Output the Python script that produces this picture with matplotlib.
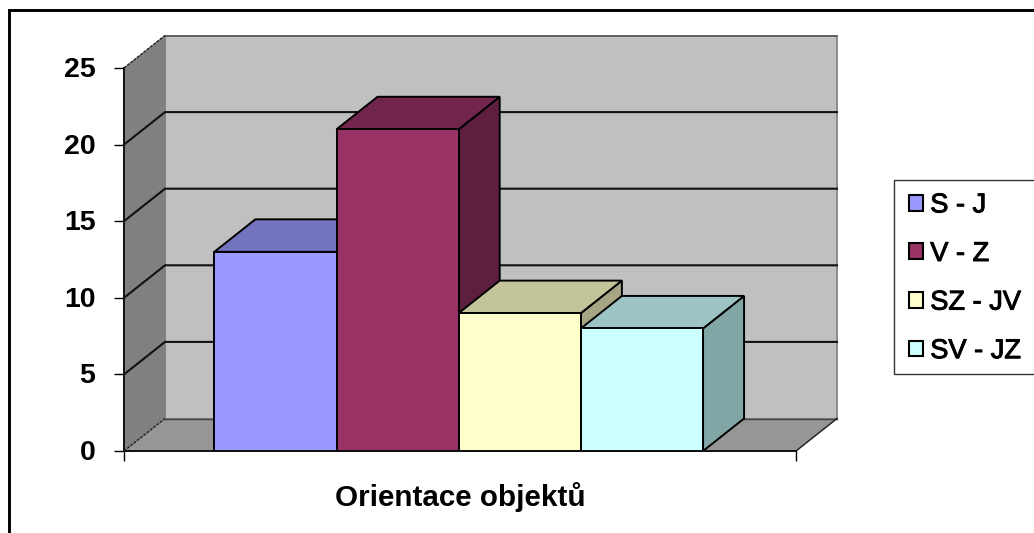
import matplotlib
matplotlib.use('Agg')
import matplotlib.pyplot as plt
import matplotlib.patheffects as pe
from matplotlib.lines import Line2D
from matplotlib.patches import Patch, Rectangle
from matplotlib.transforms import ScaledTranslation

# Data
labels = ['S - J', 'V - Z', 'SZ - JV', 'SV - JZ']
values = [13, 21, 9, 8]
yticks = [0, 5, 10, 15, 20, 25]
xlabel = 'Orientace objektů'

front_colors = ['#9999FF', '#993366', '#FFFFCC', '#CCFFFF']
top_colors = ['#7373BF', '#73264D', '#C4C49A', '#9CC4C4']
side_colors = ['#5C5C99', '#5E1F3F', '#A6A685', '#82A6A6']

W, H = 1034, 533

plt.rcParams['font.family'] = ['Liberation Sans', 'DejaVu Sans']
plt.rcParams['font.weight'] = 'bold'

fig = plt.figure(figsize=(W / 100, H / 100), dpi=100)
ax = fig.add_axes([124 / W, (H - 451) / H, 672 / W, 383 / H])
ax.set_xlim(-0.5, 0.5)
ax.set_ylim(0, 25)

# depth of the fake 3d box, in data units
dx = 41 / 672
dy = 32.5 / 383 * 25
x0, x1 = -0.5, 0.5
ymax = yticks[-1]

# walls and floor
ax.fill([x0 + dx, x1 + dx, x1 + dx, x0 + dx], [dy, dy, ymax + dy, ymax + dy],
        color='#C0C0C0', ec='#808080', lw=1.2, clip_on=False, zorder=1)
ax.fill([x0, x0 + dx, x0 + dx, x0], [0, dy, ymax + dy, ymax],
        color='#808080', ec='#808080', lw=0.8, clip_on=False, zorder=1)
ax.fill([x0, x1, x1 + dx, x0 + dx], [0, 0, dy, dy],
        color='#969696', ec='#808080', lw=0.8, clip_on=False, zorder=1)

# gridlines along side wall and back wall
for t in yticks[1:-1]:
    ax.plot([x0, x0 + dx, x1 + dx], [t, t + dy, t + dy], color='#111111', lw=1.5,
            clip_on=False, zorder=2, solid_joinstyle='miter')

# box edges
ax.plot([x0 + dx, x1 + dx], [ymax + dy, ymax + dy], color='#555555', lw=1.1, clip_on=False, zorder=2)
ax.plot([x0, x0 + dx], [ymax, ymax + dy], color='#222222', lw=1, ls=(0, (2, 1)), clip_on=False, zorder=2)
ax.plot([x0, x0 + dx], [0, dy], color='#222222', lw=1, ls=(0, (2, 1)), clip_on=False, zorder=2)
ax.plot([x0 + dx, x1 + dx], [dy, dy], color='#444444', lw=1, clip_on=False, zorder=2)
ax.plot([x1, x1 + dx], [0, dy], color='#222222', lw=1, clip_on=False, zorder=2)

# bars, gap width is 150% of one bar
bar_w = 1 / 5.5
start = -2 * bar_w - 1.3 / 672
for i, v in enumerate(values):
    left = start + i * bar_w
    z = 3 + i
    ax.fill([left + bar_w, left + bar_w + dx, left + bar_w + dx, left + bar_w],
            [0, dy, v + dy, v], color=side_colors[i], ec='black', lw=1.4,
            clip_on=False, zorder=z)
    ax.fill([left, left + bar_w, left + bar_w + dx, left + dx],
            [v, v, v + dy, v + dy], color=top_colors[i], ec='black', lw=1.4,
            clip_on=False, zorder=z)
    ax.bar(left, v, width=bar_w, align='edge', color=front_colors[i],
           edgecolor='black', linewidth=1.4, clip_on=False, zorder=z)

# axes
for s in ['top', 'right']:
    ax.spines[s].set_visible(False)
for s in ['left', 'bottom']:
    ax.spines[s].set_linewidth(1.4)
    ax.spines[s].set_color('#111111')
    ax.spines[s].set_zorder(8)

ax.set_yticks(yticks)
ax.set_xticks([x0, x1])
ax.set_xticklabels([])
ax.tick_params(axis='y', length=7, width=1, pad=13.5, labelsize=20.5)
ax.tick_params(axis='x', length=7.5, width=1)
ax.set_xlabel(xlabel, fontsize=21.3, fontweight='bold', labelpad=11.5)

# nudge y labels up a little
up = ScaledTranslation(0, 1 / 100, fig.dpi_scale_trans)
for lab in ax.get_yticklabels():
    lab.set_transform(lab.get_transform() + up)

# legend box runs off the right edge of the picture
fig.add_artist(Rectangle((894 / W, 1 - 373.7 / H), 150 / W, 194.2 / H, transform=fig.transFigure,
                         facecolor='white', edgecolor='#333333', lw=1))
handles = [Patch(facecolor=c, edgecolor='black', linewidth=1.5) for c in front_colors]
leg = fig.legend(handles, labels, loc='upper left', bbox_to_anchor=(909 / W, 1 - 192.4 / H),
                 fontsize=19.6, frameon=False, borderaxespad=0, borderpad=0,
                 handlelength=0.52, handleheight=0.52, handletextpad=0.26, labelspacing=0.83)
for t in leg.get_texts():
    t.set_fontweight('normal')
    t.set_path_effects([pe.withStroke(linewidth=0.7, foreground='black')])

# outer frame, only top and left show
fig.add_artist(Line2D([9 / W, 9 / W, 1], [0, 1 - 10 / H, 1 - 10 / H],
                      color='black', lw=2.1, solid_joinstyle='miter'))

fig.savefig('out.png', dpi=100)
